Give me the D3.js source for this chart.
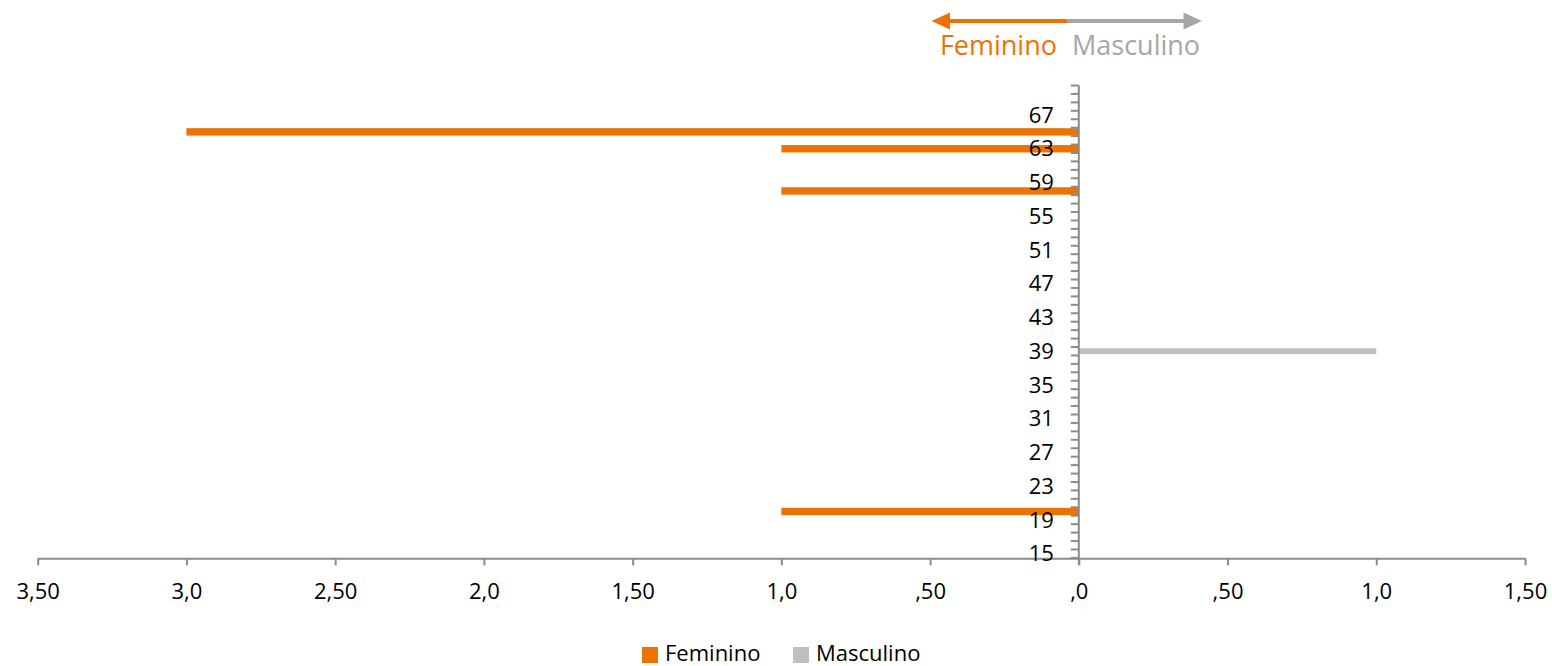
<!DOCTYPE html>
<html>
<head>
<meta charset="utf-8">
<script src="https://cdn.jsdelivr.net/npm/d3@7"></script>
<style>
  html, body { margin: 0; padding: 0; background: #fff; }
  svg { display: block; font-family: "Open Sans", "Noto Sans", sans-serif; }
</style>
</head>
<body>
<svg id="chart" width="1552" height="666"></svg>
<script>
// ---- data ----
const ages = d3.range(15, 71);               // categories 15..70
const femininoAges = [65, 63, 58, 20];
const femininoValues = [3, 1, 1, 1];
const masculinoAges = [39];
const masculinoValues = [1];
const xTickValues = [-3.5, -3, -2.5, -2, -1.5, -1, -0.5, 0, 0.5, 1, 1.5];
const xTickLabels = ["3,50", "3,0", "2,50", "2,0", "1,50", "1,0", ",50", ",0", ",50", "1,0", "1,50"];
const seriesNames = ["Feminino", "Masculino"];
const colors = { Feminino: "#EE7203", Masculino: "#BFBFBF" };

const svg = d3.select("#chart");
const axisColor = "#8C8C8C";

const x = d3.scaleLinear().domain([-3.5, 1.5]).range([37.7, 1525]);
const y = d3.scaleBand().domain(ages.slice().reverse()).range([85.5, 557.9]).paddingInner(0.12).paddingOuter(0.06);
const yEdge = d3.scaleLinear().domain([0, ages.length]).range([557.9, 85.5]);

const fem = femininoAges.map((a, i) => ({ age: a, v: -femininoValues[i] }));
const mas = masculinoAges.map((a, i) => ({ age: a, v: masculinoValues[i] }));

// bars
svg.append("g").selectAll("rect").data(fem).join("rect")
  .attr("x", d => x(d.v)).attr("width", d => x(0) - x(d.v))
  .attr("y", d => y(d.age)).attr("height", y.bandwidth())
  .attr("fill", colors.Feminino);
svg.append("g").selectAll("rect").data(mas).join("rect")
  .attr("x", x(0)).attr("width", d => x(d.v) - x(0))
  .attr("y", d => y(d.age) + 0.8).attr("height", y.bandwidth() - 1.6)
  .attr("fill", colors.Masculino);

// x axis
const xAxis = d3.axisBottom(x).tickValues(xTickValues)
  .tickFormat((d, i) => xTickLabels[i]).tickSize(7).tickSizeOuter(0).tickPadding(18);
const gx = svg.append("g").attr("transform", "translate(0,558.3)").call(xAxis);
gx.select(".domain").attr("stroke", axisColor).attr("stroke-width", 2);
gx.selectAll(".tick line").attr("stroke", axisColor).attr("stroke-width", 2);
gx.selectAll(".tick text").attr("font-size", 22).attr("fill", "#000")
  .attr("font-family", "'Open Sans', sans-serif");

// y axis
const x0 = x(0);
const gy = svg.append("g");
gy.append("line").attr("x1", x0).attr("x2", x0).attr("y1", yEdge(ages.length)).attr("y2", yEdge(0) + 7)
  .attr("stroke", axisColor).attr("stroke-width", 2);
gy.selectAll("line.tk").data(d3.range(0, ages.length + 1)).join("line").attr("class", "tk")
  .attr("x1", x0 - 8).attr("x2", x0).attr("y1", d => yEdge(d)).attr("y2", d => yEdge(d))
  .attr("stroke", axisColor).attr("stroke-width", 2);
gy.selectAll("text").data(ages.filter((a, i) => i % 4 === 0)).join("text")
  .attr("x", x0 - 25).attr("y", d => y(d) + y.bandwidth() / 2)
  .attr("dy", "0.35em").attr("text-anchor", "end").attr("font-size", 22).attr("fill", "#000")
  .text(d => d);

// top annotation arrows
const ann = svg.append("g");
ann.append("line").attr("x1", 948).attr("x2", 1067).attr("y1", 21).attr("y2", 21)
  .attr("stroke", colors.Feminino).attr("stroke-width", 4);
ann.append("polygon").attr("points", "931.5,21 950,12.5 950,29.5").attr("fill", colors.Feminino);
ann.append("line").attr("x1", 1067).attr("x2", 1185).attr("y1", 21).attr("y2", 21)
  .attr("stroke", "#A6A6A6").attr("stroke-width", 4);
ann.append("polygon").attr("points", "1202,21 1183.5,12.5 1183.5,29.5").attr("fill", "#A6A6A6");
ann.append("text").attr("x", 1057).attr("y", 55).attr("text-anchor", "end")
  .attr("font-size", 27).attr("fill", colors.Feminino).text(seriesNames[0]);
ann.append("text").attr("x", 1072).attr("y", 55).attr("text-anchor", "start")
  .attr("font-size", 27).attr("fill", "#A6A6A6").text(seriesNames[1]);

// legend
const legendX = [642, 793];
const lg = svg.append("g");
seriesNames.forEach((s, i) => {
  lg.append("rect").attr("x", legendX[i]).attr("y", 647).attr("width", 16).attr("height", 16)
    .attr("fill", colors[s]);
  lg.append("text").attr("x", legendX[i] + 23).attr("y", 661).attr("font-size", 22)
    .attr("fill", "#000").text(s);
});
</script>
</body>
</html>
